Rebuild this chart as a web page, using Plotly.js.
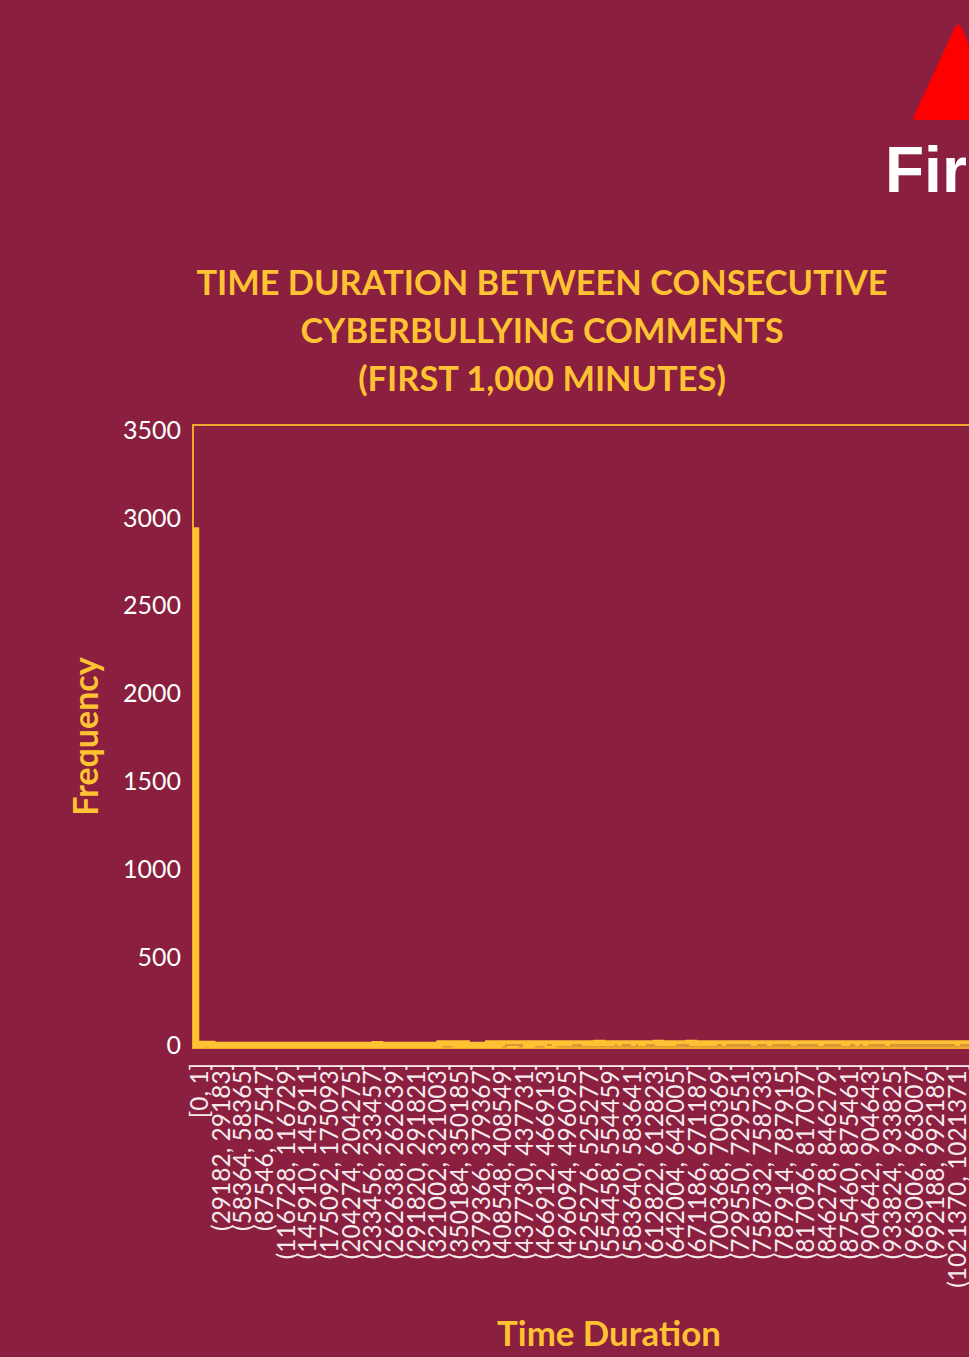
<!DOCTYPE html>
<html>
<head>
<meta charset="utf-8">
<script src="https://cdn.plot.ly/plotly-3.0.1.min.js"></script>
<style>
  html, body { margin: 0; padding: 0; width: 969px; height: 1357px; overflow: hidden; background: #8a1f3f; }
  #chart { width: 1100px; height: 1357px; }
</style>
</head>
<body>
<div id="chart"></div>
<script>
// Histogram of the time between consecutive cyberbullying comments.
const tickBinStart = [0, 29182, 58364, 87546, 116728, 145910, 175092, 204274, 233456, 262638,
  291820, 321002, 350184, 379366, 408548, 437730, 466912, 496094, 525276, 554458,
  583640, 612822, 642004, 671186, 700368, 729550, 758732, 787914, 817096, 846278,
  875460, 904642, 933824, 963006, 992188, 1021370];
const tickLabels = ["[0, 1]", "(29182, 29183]", "(58364, 58365]", "(87546, 87547]", "(116728, 116729]",
  "(145910, 145911]", "(175092, 175093]", "(204274, 204275]", "(233456, 233457]", "(262638, 262639]",
  "(291820, 291821]", "(321002, 321003]", "(350184, 350185]", "(379366, 379367]", "(408548, 408549]",
  "(437730, 437731]", "(466912, 466913]", "(496094, 496095]", "(525276, 525277]", "(554458, 554459]",
  "(583640, 583641]", "(612822, 612823]", "(642004, 642005]", "(671186, 671187]", "(700368, 700369]",
  "(729550, 729551]", "(758732, 758733]", "(787914, 787915]", "(817096, 817097]", "(846278, 846279]",
  "(875460, 875461]", "(904642, 904643]", "(933824, 933825]", "(963006, 963007]", "(992188, 992189]",
  "(1021370, 1021371]"];

// Frequency for each displayed bin, from the left edge of the axis.
const frequency = [
  2945, 0, 6, 6, 0, 0, 0, 0, 0, 0,
  0, 0, 0, 0, 0, 0, 0, 0, 0, 0,
  0, 0, 0, 0, 0, 0, 0, 0, 0, 0,
  0, 0, 0, 0, 5, 0, 0, 0, 0, 0,
  0, 0, 0, 0, 0, 0, 9, 9, 8, 0,
  9, 0, 0, 0, 0, 8, 0, 9, 9, 0,
  8, 9, 0, 9, 8, 9, 0, 9, 9, 8,
  9, 8, 9, 9, 8, 11, 9, 8, 9, 9,
  9, 8, 9, 9, 9, 8, 11, 9, 9, 9,
  9, 9, 11, 9, 9, 9, 8, 9, 9, 8,
  9, 9, 9, 8, 9, 9, 9, 9, 8, 9,
  9, 9, 9, 9, 8, 9, 9, 9, 9, 9,
  8, 9, 9, 9, 9, 9, 9, 9, 8, 9,
  9, 9, 9, 9, 9, 9, 9, 8, 9, 9,
  9, 9, 9, 9, 8, 9, 9, 9, 9, 9,
  9, 9, 9, 9, 9
];
const binSpacing = 7296;

// Stretches of empty bins that show as a darker seam through the baseline.
const emptyRunStart = [416532, 473148, 506848, 564812, 574248, 593120, 606600, 647040, 702308, 714440,
  756228, 776448, 810148, 846544, 881592, 893724, 905856, 935512, 1029872];
const emptyRunEnd = [440796, 479888, 520328, 567508, 586380, 595816, 618732, 664564, 709048, 748140,
  769708, 802060, 838456, 869460, 888332, 899116, 928772, 1023132, 1063572];

const BG = "#8a1f3f", GOLD = "#ffc233", FRAME = "#efa92e", SEAM = "#c9873a";
const W = 1100, H = 1357, L = 193, R = 75, T = 425, B = 309;
const plotW = W - L - R, plotH = H - T - B;

// Page coordinates to paper fractions, for the slide artwork around the chart.
const px = v => (v - L) / plotW;
const py = v => (H - B - v) / plotH;

const binX = frequency.map((_, i) => i * binSpacing);
const seamX = [], seamY = [];
emptyRunStart.forEach((s, i) => { seamX.push(s, emptyRunEnd[i], null); seamY.push(0, 0, null); });

const traces = [
  {
    type: "bar",
    x: binX,
    y: frequency,
    width: binSpacing,
    marker: { color: GOLD, line: { width: 0 } },
    cliponaxis: false,
    hoverinfo: "x+y"
  },
  {
    // Heavy outline running along the tops of the bins, which forms the thick baseline.
    type: "scatter",
    mode: "lines",
    x: binX,
    y: frequency,
    line: { color: GOLD, width: 6.5, shape: "vh", simplify: false },
    cliponaxis: false,
    hoverinfo: "skip"
  },
  {
    type: "scatter",
    mode: "lines",
    x: seamX,
    y: seamY,
    line: { color: SEAM, width: 1.4 },
    cliponaxis: false,
    hoverinfo: "skip"
  }
];

const triangle = `M ${px(955)} ${py(27)} Q ${px(958)} ${py(22)} ${px(961)} ${py(27)} L ${px(1002)} ${py(116)} ` +
  `Q ${px(1004)} ${py(120)} ${px(1000)} ${py(120)} L ${px(916)} ${py(120)} Q ${px(912)} ${py(120)} ${px(914)} ${py(116)} Z`;

const layout = {
  width: W,
  height: H,
  paper_bgcolor: BG,
  plot_bgcolor: BG,
  showlegend: false,
  margin: { l: L, r: R, t: T, b: B, pad: 0 },
  font: { family: "Lato, sans-serif", color: "#ffffff" },
  title: {
    text: '<span style="font-size:34.4px">TIME DURATION BETWEEN CONSECUTIVE</span><br>' +
          '<span style="font-size:34.4px">CYBERBULLYING COMMENTS</span><br>' +
          '<span style="font-size:34.4px">(FIRST 1,000 MINUTES)</span>',
    font: { family: "Lato, sans-serif", size: 37, color: GOLD, weight: 700 },
    xref: "container", yref: "container",
    x: 542 / W, xanchor: "center",
    y: 1 - 295 / H, yanchor: "top"
  },
  xaxis: {
    type: "linear",
    range: [-4044, 1117492],
    tickmode: "array",
    tickvals: tickBinStart.map(v => v + 5600),
    ticktext: tickLabels,
    tickangle: -90,
    ticks: "",
    showgrid: false,
    zeroline: false,
    showline: false,
    ticklabelstandoff: 9,
    tickfont: { family: "Lato, sans-serif", size: 24.5, color: "#f6e9ec" },
    title: {
      text: "Time Duration",
      font: { family: "Lato, sans-serif", size: 34.8, color: GOLD, weight: 700 },
      standoff: 34
    }
  },
  yaxis: {
    range: [-17, 3528.5],
    tickmode: "array",
    tickvals: [0, 500, 1000, 1500, 2000, 2500, 3000, 3500],
    ticktext: ["0", "500", "1000", "1500", "2000", "2500", "3000", "3500"],
    ticks: "",
    showgrid: false,
    zeroline: false,
    showline: false,
    ticklabelstandoff: 11,
    tickfont: { family: "Lato, sans-serif", size: 25, color: "#ffffff" },
    title: {
      text: "Frequency",
      font: { family: "Lato, sans-serif", size: 34, color: GOLD, weight: 700 },
      standoff: 14
    }
  },
  shapes: [
    { type: "rect", xref: "paper", yref: "paper", x0: 0, x1: 1, y0: 0, y1: 1, layer: "below",
      line: { color: FRAME, width: 2 } },
    { type: "path", xref: "paper", yref: "paper", path: triangle, fillcolor: "#ff0000", line: { width: 0 } }
  ],
  annotations: [
    { xref: "paper", yref: "paper", x: px(883), y: py(170), xanchor: "left", yanchor: "middle",
      text: "First", showarrow: false,
      font: { family: "'Liberation Sans', Arial, sans-serif", size: 64, color: "#ffffff", weight: 700 } }
  ]
};

Plotly.newPlot("chart", traces, layout, { displayModeBar: false, responsive: false });
</script>
</body>
</html>
